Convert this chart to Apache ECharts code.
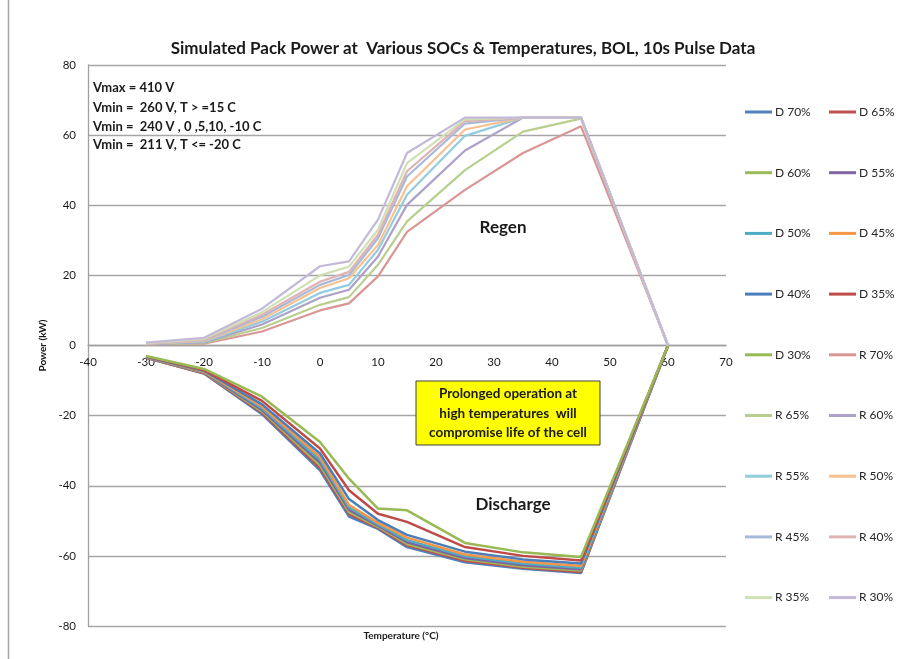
<!DOCTYPE html>
<html><head><meta charset="utf-8">
<script src="https://cdn.jsdelivr.net/npm/echarts@6/dist/echarts.min.js"></script>
<style>html,body{margin:0;padding:0;background:#fff}#c{width:899px;height:659px}</style>
</head><body><div id="c"></div>
<script>
// Temperatures (°C)
const temps = [-30, -20, -10, 0, 5, 10, 15, 25, 35, 45, 60];
// Discharge power (kW)
const D70 = [-3.5, -8.0, -19.6, -35.6, -48.8, -52.3, -57.5, -61.8, -63.7, -64.9, 0];
const D65 = [-3.5, -7.9, -19.2, -34.9, -48.1, -52.0, -57.0, -61.4, -63.4, -64.6, 0];
const D60 = [-3.4, -7.7, -18.8, -34.2, -47.5, -51.7, -56.6, -61.0, -63.1, -64.2, 0];
const D55 = [-3.4, -7.6, -18.4, -33.4, -46.9, -51.4, -56.1, -60.6, -62.7, -63.8, 0];
const D50 = [-3.3, -7.5, -17.9, -32.6, -46.2, -51.0, -55.5, -60.1, -62.2, -63.4, 0];
const D45 = [-3.3, -7.4, -17.4, -31.8, -45.5, -50.6, -54.8, -59.6, -61.7, -62.9, 0];
const D40 = [-3.2, -7.2, -16.8, -30.8, -43.8, -49.8, -54.0, -58.8, -61.0, -62.2, 0];
const D35 = [-3.1, -7.0, -15.8, -29.4, -41.3, -48.0, -50.3, -57.5, -60.0, -61.3, 0];
const D30 = [-3.0, -6.7, -14.6, -27.5, -38.0, -46.5, -47.0, -56.3, -59.0, -60.3, 0];
// Regen power (kW)
const R70 = [0.3, 0.5, 4.0, 10.0, 12.0, 19.7, 32.4, 44.4, 54.9, 62.5, 0];
const R65 = [0.4, 0.7, 5.0, 11.6, 13.8, 23.0, 35.4, 50.0, 61.0, 64.7, 0];
const R60 = [0.4, 0.9, 6.0, 13.6, 15.9, 25.4, 40.1, 55.6, 65.0, 65.0, 0];
const R55 = [0.5, 1.1, 6.8, 15.0, 17.3, 27.3, 43.0, 59.8, 65.0, 65.0, 0];
const R50 = [0.5, 1.3, 7.5, 16.4, 19.2, 28.7, 45.4, 61.6, 65.0, 65.0, 0];
const R45 = [0.6, 1.5, 8.2, 17.3, 20.1, 30.6, 48.2, 63.3, 65.0, 65.0, 0];
const R40 = [0.6, 1.7, 8.8, 18.2, 21.0, 31.6, 49.7, 64.0, 65.0, 65.0, 0];
const R35 = [0.7, 1.9, 9.5, 20.0, 22.5, 33.0, 52.0, 64.5, 65.0, 65.0, 0];
const R30 = [0.8, 2.2, 10.5, 22.6, 24.0, 35.9, 54.9, 65.0, 65.0, 65.0, 0];

const seriesNames = ['D 70%','D 65%','D 60%','D 55%','D 50%','D 45%','D 40%','D 35%','D 30%',
                     'R 70%','R 65%','R 60%','R 55%','R 50%','R 45%','R 40%','R 35%','R 30%'];
const seriesValues = [D70,D65,D60,D55,D50,D45,D40,D35,D30,R70,R65,R60,R55,R50,R45,R40,R35,R30];

const xTicks = {min: -40, max: 70, step: 10};
const yTicks = {min: -80, max: 80, step: 20};

const title = 'Simulated Pack Power at  Various SOCs & Temperatures, BOL, 10s Pulse Data';
const notes = ['Vmax = 410 V', 'Vmin =  260 V, T > =15 C', 'Vmin =  240 V , 0 ,5,10, -10 C', 'Vmin =  211 V, T <= -20 C'];
const boxLines = ['Prolonged operation at', 'high temperatures  will', 'compromise life of the cell'];

// styles
const colors = ['#4F81BD','#C0504D','#9BBB59','#8064A2','#4BACC6','#F79646','#4A7EBB','#BE4B48','#98B954',
                '#D99694','#B9CF8F','#ADA0C9','#93CDDD','#FAC090','#A7B9DA','#E0B3B2','#CFE0B5','#C4B9D8'];

const FONT = 'Lato, "Liberation Sans", sans-serif';
const chart = echarts.init(document.getElementById('c'), null, {renderer: 'canvas'});

const gridTop = 65, gridBottom = 33, H = 659;
const plotH = H - gridTop - gridBottom;

const series = seriesNames.map((n, k) => ({
  name: n, type: 'line', showSymbol: false, symbol: 'none',
  data: temps.map((t, i) => [t, seriesValues[k][i]]),
  lineStyle: {width: k < 9 ? 2.5 : 2.2, color: colors[k]},
  itemStyle: {color: colors[k]},
  emphasis: {disabled: true}, animation: false, z: 2
}));

const col1 = seriesNames.filter((_, i) => i % 2 === 0);
const col2 = seriesNames.filter((_, i) => i % 2 === 1);
const legendBase = {
  orient: 'vertical', top: 106, icon: 'rect', itemWidth: 27, itemHeight: 3,
  itemGap: 48.7, padding: 0, selectedMode: false,
  textStyle: {fontFamily: FONT, fontSize: 12, color: '#262626', padding: [0,0,0,-2]}
};

const noteY = [88, 108, 127, 145];
const noteText = notes.map((t, i) => ({
  type: 'text', style: {x: 93, y: noteY[i], text: t, textVerticalAlign: 'middle',
    font: 'bold 13px ' + FONT, fill: '#1a1a1a'}
}));
const boxText = boxLines.map((t, i) => ({
  type: 'text', z: 11, style: {x: 508, y: 394 + i * 19.5, text: t, textAlign: 'center', textVerticalAlign: 'middle',
    font: 'bold 13.5px ' + FONT, fill: '#1a1a1a'}
}));

chart.setOption({
  backgroundColor: '#fff',
  animation: false,
  title: {text: title, left: 458, top: 35, textAlign: 'center',
    textStyle: {fontFamily: FONT, fontWeight: 'bold', fontSize: 17, color: '#1a1a1a'}},
  grid: {left: 88, right: 173, top: gridTop, bottom: gridBottom},
  legend: [Object.assign({}, legendBase, {left: 745, data: col1}),
           Object.assign({}, legendBase, {left: 829, data: col2})],
  xAxis: {type: 'value', min: xTicks.min, max: xTicks.max, interval: xTicks.step,
    offset: -plotH / 2,
    axisLine: {onZero: false, lineStyle: {color: '#A0A0A0', width: 1.3}},
    axisTick: {show: false}, splitLine: {show: false},
    axisLabel: {fontFamily: FONT, fontSize: 11.5, color: '#1a1a1a', margin: 11}},
  yAxis: {type: 'value', min: yTicks.min, max: yTicks.max, interval: yTicks.step,
    name: 'Power (kW)', nameLocation: 'middle', nameGap: 40, nameRotate: 90,
    nameTextStyle: {fontFamily: FONT, fontSize: 10, fontWeight: 'bold', color: '#1a1a1a'},
    axisLine: {show: true, onZero: false, lineStyle: {color: '#A0A0A0', width: 1.3}},
    axisTick: {show: false},
    splitLine: {lineStyle: {color: '#A6A6A6', width: 1.3}},
    axisLabel: {fontFamily: FONT, fontSize: 11.5, color: '#1a1a1a', margin: 12}},
  series: series,
  graphic: [
    {type: 'line', shape: {x1: 8.5, y1: 0, x2: 8.5, y2: 659}, style: {stroke: '#A6A6A6', lineWidth: 1.5}},
    ...noteText,
    {type: 'text', z: 10, style: {x: 503, y: 228, text: 'Regen', textAlign: 'center', textVerticalAlign: 'middle',
      font: 'bold 17px ' + FONT, fill: '#1a1a1a'}},
    {type: 'text', z: 10, style: {x: 513, y: 505, text: 'Discharge', textAlign: 'center', textVerticalAlign: 'middle',
      font: 'bold 17px ' + FONT, fill: '#1a1a1a'}},
    {type: 'rect', z: 10, shape: {x: 416, y: 381, width: 184, height: 64},
      style: {fill: '#FFFF00', stroke: '#404040', lineWidth: 1}},
    ...boxText,
    {type: 'text', style: {x: 401, y: 636, text: 'Temperature (°C)', textAlign: 'center', textVerticalAlign: 'middle',
      font: 'bold 10px ' + FONT, fill: '#1a1a1a'}}
  ]
});
</script></body></html>
